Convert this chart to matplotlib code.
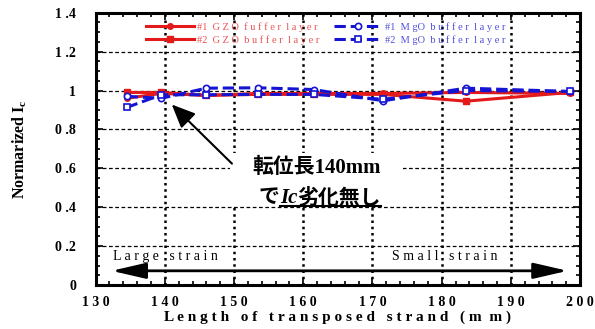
import matplotlib
matplotlib.use("Agg")
import matplotlib.pyplot as plt
from matplotlib.patches import Rectangle
from matplotlib.ticker import MultipleLocator

# transposition length (mm)
longueur = [134.5, 139.5, 146, 153.5, 161.5, 171.5, 183.5, 198.5]

# normalized Ic for each sample
gzo1 = [0.96, 0.985, 0.975, 0.985, 0.985, 0.985, 0.99, 0.985]
gzo2 = [0.99, 0.99, 0.975, 0.98, 0.98, 0.98, 0.945, 0.99]
mgo1 = [0.97, 0.96, 1.012, 1.014, 1.005, 0.947, 1.012, 0.995]
mgo2 = [0.913, 0.978, 0.978, 0.98, 0.98, 0.955, 1.0, 0.995]

rotulos = ["#1  G Z O  f u f f e r  l a y e r", "#2  G Z O  b u f f e r  l a y e r",
           "#1  M gO  b u f f e r  l a y e r", "#2  M gO  b u f f e r  l a y e r"]

xticks = [130, 140, 150, 160, 170, 180, 190, 200]
xtick_labels = ["1 3 0", "1 4 0", "1 5 0", "1 6 0", "1 7 0", "1 8 0", "1 9 0", "2 0 0"]
yticks = [0, 0.2, 0.4, 0.6, 0.8, 1.0, 1.2, 1.4]
ytick_labels = ["0", "0 .2", "0 .4", "0 .6", "0 .8", "1", "1 .2", "1 .4"]

plt.rcParams['mathtext.fontset'] = 'custom'
plt.rcParams['mathtext.rm'] = 'Liberation Serif:bold'
plt.rcParams['mathtext.bf'] = 'Liberation Serif:bold'
plt.rcParams['mathtext.it'] = 'Liberation Serif:italic:bold'

serif = 'Liberation Serif'
jp = ['Liberation Serif', 'Noto Sans CJK JP']
vermelho = '#e41a1a'
azul = '#1414d2'

fig = plt.figure(figsize=(5.95, 3.29), dpi=100)
ax = fig.add_axes([0.1607, 0.1337, 0.8143, 0.8277])

ax.plot(longueur, gzo1, '-', color=vermelho, lw=2.2, marker='o', ms=4, label=rotulos[0])
ax.plot(longueur, gzo2, '-', color=vermelho, lw=2.2, marker='s', ms=5, label=rotulos[1])
ax.plot(longueur, mgo1, '--', color=azul, lw=2.2, marker='o', ms=4.5, mfc='white', mew=1.2,
        label=rotulos[2])
ax.plot(longueur, mgo2, '--', color=azul, lw=2.2, marker='s', ms=4.5, mfc='white', mew=1.2,
        label=rotulos[3])

ax.set_xlim(130, 200)
ax.set_ylim(0, 1.4)
ax.set_xticks(xticks)
ax.set_xticklabels(xtick_labels, family=serif, fontweight='bold', fontsize=10)
ax.set_yticks(yticks)
ax.set_yticklabels(ytick_labels, family=serif, fontweight='bold', fontsize=10)
ax.xaxis.set_minor_locator(MultipleLocator(2))
ax.yaxis.set_minor_locator(MultipleLocator(0.05))
ax.tick_params(which='both', direction='in', top=True, right=True, width=1.2)
ax.tick_params(which='major', length=5, pad=8)
ax.tick_params(which='minor', length=3)
ax.tick_params(axis='y', pad=14)
for s in ax.spines.values():
    s.set_linewidth(2.2)

ax.set_axisbelow(True)
ax.xaxis.grid(True, ls=(0, (1, 1.5)), lw=1.8, color='black')
ax.yaxis.grid(True, ls=(0, (3, 2)), lw=0.9, color='black')

ax.set_xlabel("L e n g t h   o f   t r a n s p o s e d   s t r a n d   ( m  m )",
              family=serif, fontweight='bold', fontsize=11, labelpad=1)
ax.set_ylabel(r"Normarized I$_\mathbf{c}$", family=serif, fontweight='bold', fontsize=11.5,
              labelpad=19)

leg = ax.legend(ncol=2, loc='upper left', bbox_to_anchor=(0.085, 1.0), frameon=False,
                handlelength=4.6, handletextpad=0.3, columnspacing=1.4, labelspacing=0.35,
                prop={'family': serif, 'size': 7.5})
for txt, c in zip(leg.get_texts(), [vermelho, vermelho, azul, azul]):
    txt.set_color(c)
    txt.set_alpha(0.75)

# caixa branca atras do texto
ax.add_patch(Rectangle((149.4, 0.41), 25.0, 0.267, facecolor='white', edgecolor='none',
                       zorder=1))

ax.annotate('', xy=(141.0, 0.928), xytext=(149.7, 0.624),
            arrowprops=dict(arrowstyle='-|>,head_length=0.8,head_width=0.35', color='black',
                            lw=1.5, mutation_scale=18, shrinkA=0, shrinkB=0))
ax.annotate('', xy=(198.2, 0.073), xytext=(132.3, 0.073),
            arrowprops=dict(arrowstyle='<|-|>,head_length=1.3,head_width=0.3', color='black',
                            lw=2, mutation_scale=16, shrinkA=0, shrinkB=0))
ax.text(132.5, 0.149, "L a r g e   s t r a i n", family=serif, fontsize=10, va='center')
ax.text(172.8, 0.149, "S m a l l   s t r a i n", family=serif, fontsize=10, va='center')

ax.text(162.0, 0.60, "転位長140mm", family=jp, fontweight='bold', fontsize=15,
        ha='center', va='center', zorder=5)

# segunda linha: pedacos montados depois de medir
p1 = ax.text(0, 0, "で", family=jp, fontweight='bold', fontsize=15, va='baseline', zorder=5)
p2 = ax.text(0, 0, "Ic", family=serif, fontweight='bold', style='italic', fontsize=15,
             va='baseline', zorder=5)
p3 = ax.text(0, 0, "劣化無し", family=jp, fontweight='bold', fontsize=15, va='baseline',
             zorder=5)
fig.canvas.draw()
r = fig.canvas.get_renderer()
larguras = [p.get_window_extent(r).width for p in (p1, p2, p3)]
cx, cy = ax.transData.transform((162.4, 0.42))
x0 = cx - sum(larguras) / 2
inv = ax.transData.inverted()
pos = x0
for p, w in zip((p1, p2, p3), larguras):
    p.set_position(inv.transform((pos, cy)))
    pos += w
u0 = inv.transform((x0 + larguras[0], cy - 3))
u1 = inv.transform((pos, cy - 3))
ax.plot([u0[0], u1[0]], [u0[1], u1[1]], color='black', lw=1.5, zorder=5)

fig.savefig("out.png", dpi=100)
